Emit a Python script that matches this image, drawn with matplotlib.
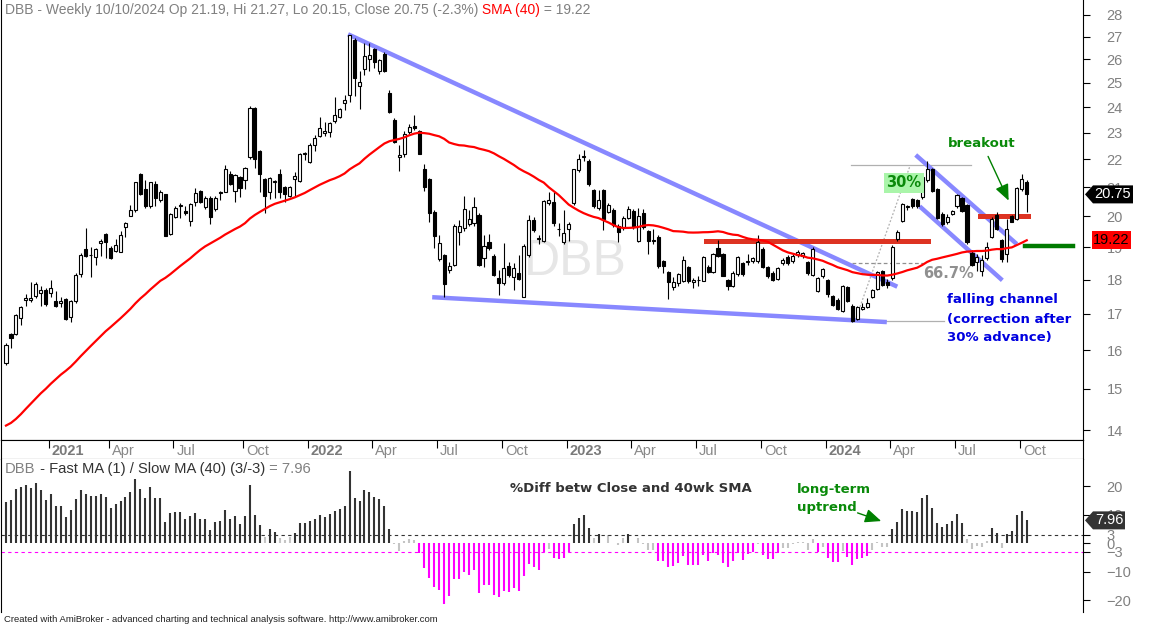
import numpy as np
import pandas as pd
import matplotlib
matplotlib.use("Agg")
import matplotlib.pyplot as plt
from matplotlib.patches import Polygon
from matplotlib.ticker import FixedLocator, NullLocator, FuncFormatter

plt.rcParams['font.family'] = ['Liberation Sans', 'DejaVu Sans']

W, H = 1150, 625

# weekly bars, last one dated Thu 10/10/2024
dates = pd.date_range(end='2024-10-10', periods=206, freq='7D')

opens = [
    15.66, 16.44, 16.44, 16.88, 17.40, 17.41, 17.51, 17.60, 17.69, 17.60,
    17.37, 17.30, 17.42, 16.90, 17.37, 18.16, 18.93, 18.74, 18.69, 19.12,
    19.42, 18.99, 18.89, 18.86, 19.65, 20.03, 20.20, 21.48, 20.93, 20.34,
    21.11, 20.54, 20.75, 19.43, 19.99, 20.36, 20.19, 19.86, 20.50, 20.87,
    20.33, 20.64, 20.24, 20.85, 20.85, 21.47, 20.87, 21.35, 21.24, 22.07,
    23.95, 22.31, 21.28, 20.85, 21.20, 21.47, 21.02, 20.69, 21.28, 21.22,
    22.21, 21.90, 22.52, 22.87, 22.98, 23.03, 23.44, 23.62, 24.16, 24.49,
    26.84, 24.88, 25.58, 25.99, 26.44, 25.49, 26.22, 24.56, 23.49, 22.07,
    22.21, 23.04, 23.26, 23.07, 21.65, 21.29, 20.14, 18.62, 18.77, 18.29,
    18.46, 19.50, 19.63, 19.74, 19.77, 20.05, 18.65, 19.15, 18.72, 18.04,
    17.89, 18.41, 18.09, 18.19, 17.50, 18.75, 19.88, 19.26, 19.20, 20.45,
    20.48, 19.57, 19.16, 19.58, 20.45, 21.61, 22.10, 21.94, 20.90, 20.28,
    20.90, 20.14, 20.22, 19.69, 19.62, 19.94, 20.19, 19.21, 20.10, 19.51,
    19.20, 19.32, 18.57, 18.22, 17.79, 17.91, 17.97, 18.37, 17.94, 17.98,
    17.97, 18.39, 18.24, 18.98, 18.78, 17.99, 17.82, 18.17, 18.50, 18.54,
    18.58, 18.56, 18.94, 18.37, 18.19, 18.01, 18.50, 18.70, 18.57, 18.75,
    18.72, 18.53, 18.14, 17.67, 18.12, 17.99, 17.52, 17.41, 17.08, 17.77,
    17.23, 16.86, 17.14, 17.21, 17.48, 17.72, 18.26, 17.93, 18.06, 19.26,
    19.85, 20.32, 20.58, 20.56, 20.65, 21.25, 21.66, 20.92, 20.09, 19.80,
    20.09, 20.34, 20.62, 20.39, 18.81, 18.55, 18.25, 18.65, 19.33, 20.05,
    19.23, 18.80, 20.02, 19.91, 20.93, 21.19]
highs = [
    16.20, 16.47, 17.00, 17.24, 17.57, 17.93, 17.92, 17.80, 17.74, 17.98,
    17.66, 17.48, 17.45, 17.40, 18.20, 18.83, 19.61, 19.00, 18.99, 19.25,
    19.46, 19.04, 19.26, 19.52, 19.83, 20.39, 21.20, 21.50, 21.27, 21.20,
    21.22, 20.90, 20.77, 20.10, 20.34, 20.47, 20.34, 20.45, 20.96, 20.90,
    20.71, 20.68, 20.68, 20.88, 21.80, 21.58, 21.47, 21.40, 21.72, 24.03,
    24.00, 22.35, 21.32, 21.37, 21.25, 21.64, 21.05, 21.04, 21.55, 22.22,
    22.26, 22.60, 22.90, 23.60, 23.43, 23.43, 24.42, 23.95, 24.49, 27.07,
    26.95, 25.50, 26.70, 26.70, 26.50, 26.00, 26.30, 24.70, 23.55, 22.53,
    23.05, 23.35, 23.69, 23.10, 21.84, 21.33, 20.20, 19.39, 18.80, 18.55,
    19.75, 19.88, 20.68, 20.22, 20.67, 20.10, 19.39, 19.41, 18.78, 18.29,
    19.12, 18.55, 18.50, 18.75, 19.10, 20.05, 19.99, 19.40, 20.55, 20.84,
    20.84, 19.78, 20.22, 19.80, 21.66, 22.20, 22.34, 22.00, 20.95, 20.90,
    20.95, 20.45, 20.30, 19.75, 20.00, 20.35, 20.25, 20.30, 20.25, 19.55,
    19.60, 19.40, 18.60, 18.26, 18.09, 18.20, 18.72, 18.40, 18.05, 18.10,
    18.72, 18.45, 18.82, 19.22, 18.82, 18.03, 18.25, 18.72, 18.55, 18.80,
    18.70, 19.40, 19.00, 18.42, 18.25, 18.38, 18.65, 18.75, 18.78, 18.90,
    18.85, 18.58, 19.00, 18.08, 18.36, 18.02, 17.55, 17.45, 17.85, 17.80,
    17.27, 17.23, 17.32, 17.45, 17.72, 18.26, 18.30, 18.03, 19.06, 19.55,
    20.45, 20.40, 20.62, 20.60, 21.40, 21.95, 21.70, 20.96, 20.15, 20.08,
    20.23, 20.76, 20.65, 20.43, 18.90, 18.80, 18.75, 19.15, 19.97, 20.15,
    19.27, 19.90, 20.05, 21.00, 21.47, 21.27]
lows = [
    15.62, 16.07, 16.40, 16.68, 17.22, 17.35, 17.46, 17.23, 17.23, 17.50,
    17.21, 17.21, 16.82, 16.78, 17.30, 18.09, 18.69, 18.08, 18.44, 18.73,
    18.65, 18.64, 18.86, 18.86, 19.32, 20.03, 20.15, 20.73, 20.28, 20.30,
    20.34, 20.50, 19.36, 19.40, 19.94, 19.94, 20.05, 19.69, 20.35, 20.45,
    20.25, 19.75, 20.18, 20.54, 20.85, 21.08, 20.48, 20.65, 20.93, 22.00,
    21.70, 20.85, 20.10, 20.59, 20.62, 20.62, 20.50, 20.65, 20.69, 21.18,
    21.98, 21.85, 22.32, 22.82, 22.88, 22.84, 23.37, 23.58, 23.87, 24.22,
    24.45, 23.92, 25.32, 25.50, 25.60, 25.38, 25.45, 23.75, 22.60, 21.58,
    22.10, 22.95, 23.10, 22.20, 20.87, 19.81, 18.98, 18.57, 17.50, 18.20,
    18.40, 19.07, 19.52, 19.70, 19.70, 18.40, 18.38, 18.92, 18.10, 17.53,
    17.84, 18.09, 17.69, 17.99, 17.48, 18.70, 19.50, 19.10, 19.15, 20.40,
    19.70, 19.35, 19.10, 19.19, 20.40, 21.55, 21.94, 21.05, 20.30, 20.20,
    19.55, 20.10, 19.65, 19.18, 19.55, 19.90, 19.60, 19.15, 19.60, 18.80,
    19.10, 18.35, 18.20, 17.44, 17.70, 17.80, 17.93, 17.90, 17.75, 17.80,
    17.95, 18.20, 18.20, 18.70, 18.10, 17.68, 17.78, 18.12, 18.12, 18.45,
    18.50, 18.50, 18.35, 18.05, 17.95, 17.98, 18.45, 18.45, 18.50, 18.70,
    18.65, 18.15, 18.10, 17.62, 18.05, 17.50, 17.22, 17.10, 17.05, 17.33,
    16.78, 16.82, 17.10, 17.18, 17.45, 17.68, 17.80, 17.75, 18.00, 19.20,
    19.80, 20.20, 20.30, 20.30, 20.60, 21.20, 20.82, 19.90, 19.70, 19.75,
    20.05, 20.30, 20.15, 19.10, 18.40, 18.25, 18.10, 18.60, 19.30, 19.55,
    18.55, 18.55, 19.80, 19.88, 20.88, 20.15]
closes = [
    16.15, 16.32, 16.97, 17.19, 17.45, 17.47, 17.86, 17.69, 17.28, 17.74,
    17.24, 17.37, 16.85, 17.37, 18.14, 18.77, 18.71, 18.77, 18.93, 19.19,
    19.16, 18.66, 19.06, 19.39, 19.78, 20.22, 21.17, 20.76, 20.36, 21.17,
    20.64, 20.82, 19.37, 20.07, 20.28, 20.40, 20.11, 20.41, 20.79, 20.48,
    20.64, 19.99, 20.64, 20.79, 21.63, 21.11, 21.43, 20.97, 21.68, 23.98,
    22.02, 21.46, 20.70, 21.34, 21.22, 20.85, 20.76, 21.00, 21.40, 22.19,
    22.24, 22.55, 22.78, 23.17, 23.07, 23.39, 23.69, 23.91, 24.29, 27.07,
    25.18, 25.04, 26.13, 26.18, 25.89, 25.96, 25.49, 23.82, 22.65, 22.16,
    22.95, 23.20, 23.17, 22.21, 20.99, 20.13, 19.35, 19.12, 17.87, 18.42,
    19.70, 19.70, 20.24, 19.92, 20.33, 18.46, 19.05, 18.98, 18.14, 17.89,
    18.34, 18.14, 18.34, 18.02, 19.05, 19.88, 19.55, 19.28, 20.52, 20.56,
    19.78, 19.60, 19.47, 19.74, 21.63, 22.00, 22.12, 21.10, 20.36, 20.56,
    19.90, 20.39, 19.72, 19.48, 19.94, 20.24, 19.65, 20.02, 19.65, 19.21,
    19.22, 18.41, 18.41, 17.94, 17.94, 18.16, 18.60, 17.97, 17.99, 18.00,
    18.68, 18.24, 18.78, 18.72, 18.12, 17.82, 18.19, 18.68, 18.17, 18.56,
    18.65, 19.18, 18.39, 18.12, 17.99, 18.34, 18.60, 18.52, 18.72, 18.84,
    18.81, 18.21, 18.94, 18.04, 18.32, 17.57, 17.25, 17.15, 17.81, 17.38,
    16.80, 17.20, 17.20, 17.32, 17.69, 18.22, 17.85, 17.85, 19.02, 19.50,
    20.41, 20.34, 20.35, 20.36, 21.36, 21.66, 20.88, 19.95, 19.75, 19.98,
    20.19, 20.73, 20.18, 19.15, 18.45, 18.68, 18.60, 19.00, 19.93, 19.60,
    18.62, 19.60, 19.83, 20.96, 21.28, 20.75]

# weekly closes before the visible window (Feb-Oct 2020), they only feed the 40wk SMA
pre_closes = [
    13.8, 13.2, 12.6, 12.3, 12.5, 12.7, 12.6, 12.8,
    12.7, 12.6, 12.8, 12.9, 13.0, 12.9, 13.1, 13.3, 13.4, 13.6, 13.8,
    13.8, 14.0, 14.2, 14.4, 14.5, 14.7, 14.9, 15.1,
    15.4, 15.6, 15.5, 15.7, 15.8, 15.6, 15.3, 15.4, 15.5, 15.6, 15.4, 15.3]

last_sma = 19.22
last_diff = 7.96

# study lines drawn on the chart: (bar, price) end points
trend_top = [(68.7, 27.10), (179.0, 17.79)]
trend_bottom = [(85.6, 17.48), (176.9, 16.77)]
chan_top = [(182.7, 22.16), (203.0, 19.10)]
chan_bottom = [(183.5, 20.34), (200.1, 17.98)]
resist_line = (140.6, 185.1, 19.21)
breakout_line = (195.6, 205.2, 20.03)
support_line = (204.6, 214.3, 19.05)
swing_low = (170.9, 188.4, 16.80)
swing_high = (169.7, 193.8, 21.80)
retrace_667 = (169.9, 184.1, 18.50)

o = np.array(opens)
h = np.array(highs)
l = np.array(lows)
c = np.array(closes)
n = len(c)
x = np.arange(n)
allc = pd.Series(pre_closes + closes)
sma = allc.rolling(40).mean().values[len(pre_closes):]
diff = (c / sma - 1) * 100

fig = plt.figure(figsize=(W / 100, H / 100), dpi=100)


def fx(px):
    return px / W


def fy(py):
    return 1 - py / H


xl = (-1.0, 216.3)
ax = fig.add_axes([fx(1), fy(440), fx(1083) - fx(1), fy(0) - fy(440)])
ax_d = fig.add_axes([fx(1), fy(459), fx(1083) - fx(1), fy(440) - fy(459)])
ax2 = fig.add_axes([fx(1), fy(612), fx(1083) - fx(1), fy(459) - fy(612)])

# ---- price panel
up = c >= o
ax.vlines(x, l, h, color='black', lw=0.8, zorder=3)
ax.bar(x[up], (c - o)[up], bottom=o[up], width=0.62, facecolor='white',
       edgecolor='black', lw=0.8, zorder=4)
ax.bar(x[~up], (o - c)[~up], bottom=c[~up], width=0.62, facecolor='black',
       edgecolor='black', lw=0.8, zorder=4)
ax.plot(x, sma, color='#ff0000', lw=1.6, zorder=5)

blue = '#8888ff'
for seg in (trend_top, trend_bottom, chan_top, chan_bottom):
    ax.plot([seg[0][0], seg[1][0]], [seg[0][1], seg[1][1]], color=blue, lw=3.2,
            solid_capstyle='butt', zorder=2)
ax.plot(resist_line[:2], [resist_line[2]] * 2, color='#dd3322', lw=3.6, zorder=2)
ax.plot(breakout_line[:2], [breakout_line[2]] * 2, color='#dd3322', lw=3.6, zorder=2)
ax.plot(support_line[:2], [support_line[2]] * 2, color='#007a00', lw=3.2, zorder=2)
ax.plot(swing_low[:2], [swing_low[2]] * 2, color='#b0b0b0', lw=0.9, zorder=1)
ax.plot(swing_high[:2], [swing_high[2]] * 2, color='#b0b0b0', lw=0.9, zorder=1)
ax.plot(retrace_667[:2], [retrace_667[2]] * 2, color='#909090', lw=0.9,
        ls=(0, (3, 2)), zorder=1)
ax.plot([170.5, 181.5], [swing_low[2], 21.73], color='#b0b0b0', lw=0.9,
        ls=(0, (1.5, 1.5)), zorder=1)

ax.set_xlim(*xl)
ax.set_yscale('log')
ax.set_ylim(13.776, 28.695)
ax.yaxis.set_major_locator(FixedLocator(list(range(14, 29))))
ax.yaxis.set_minor_locator(NullLocator())
ax.yaxis.set_major_formatter(FuncFormatter(lambda v, p: f'{v:.0f}'))
ax.yaxis.tick_right()
ax.tick_params(axis='y', direction='out', length=5, pad=12, labelsize=10.5,
               labelcolor='#808080')
ax.set_xticks([])
ax.spines['top'].set_visible(False)

ax.text(fx(575), fy(262), 'DBB', transform=fig.transFigure, fontsize=36,
        color='#e6e6e6', ha='center', va='center', zorder=0)

# title with coloured pieces
t = ax.text(fx(5), fy(17), 'DBB - Weekly 10/10/2024 Op 21.19, Hi 21.27, Lo 20.15, '
            'Close 20.75 (-2.3%)', transform=fig.transFigure, fontsize=10,
            color='#808080', va='bottom')
t = ax.annotate(' SMA (40)', xy=(1, 0), xycoords=t, va='bottom', fontsize=10,
                color='#ff0000')
ax.annotate(' = 19.22', xy=(1, 0), xycoords=t, va='bottom', fontsize=10,
            color='#808080')

green = '#0a8a0a'
ax.text(fx(904), fy(183), '30%', transform=fig.transFigure, fontsize=10.5,
        fontweight='bold', family='DejaVu Sans', color='#0a8a0a', ha='center',
        va='center', zorder=6,
        bbox=dict(boxstyle='square,pad=0.15', fc='#aaf5aa', ec='none'))
ax.text(fx(949), fy(273), '66.7%', transform=fig.transFigure, fontsize=10.5,
        fontweight='bold', family='DejaVu Sans', color='#909090', ha='center',
        va='center', zorder=6)
ax.text(fx(982), fy(144), 'breakout', transform=fig.transFigure, fontsize=9.5,
        fontweight='bold', family='DejaVu Sans', color=green, ha='center',
        va='center', zorder=6)
ax.annotate('', xy=(201.6, 20.45), xytext=(197.0, 22.2),
            arrowprops=dict(arrowstyle='-|>,head_length=0.7,head_width=0.3',
                            color='#008000', lw=1, mutation_scale=14), zorder=6)
for k, line in enumerate(['falling channel', '(correction after', '30% advance)']):
    ax.text(fx(947), fy(300 + 19 * k), line, transform=fig.transFigure,
            fontsize=9.5, fontweight='bold', family='DejaVu Sans',
            color='#0000e0', ha='left', va='center', zorder=6)

# ---- date strip
ticks, labels = [], []
for i in range(1, n):
    if dates[i].month != dates[i - 1].month and dates[i].month in (1, 4, 7, 10):
        ticks.append(i - 0.4)
        labels.append(str(dates[i].year) if dates[i].month == 1 else dates[i].strftime('%b'))
ax_d.set_xlim(*xl)
ax_d.set_ylim(0, 1)
ax_d.set_yticks([])
ax_d.set_xticks(ticks)
ax_d.tick_params(axis='x', direction='in', length=6, top=True, bottom=False,
                 labelbottom=False)
for tk, lab in zip(ticks, labels):
    yr = lab.isdigit()
    ax_d.text(tk + 0.6, 0.42, lab, transform=ax_d.get_xaxis_transform(),
              fontsize=10.5, fontweight='bold' if yr else 'normal',
              color='#7a7a7a' if yr else '#888888', ha='left', va='center')

# ---- %diff panel
cols = np.where(diff > 3, '#333333', np.where(diff < -3, '#ff00ff', '#c4c4c4'))
ax2.vlines(x, 0, diff, colors=cols, lw=1.5)
ax2.axhline(3, color='#333333', ls=(0, (3, 3)), lw=0.8)
ax2.axhline(-3, color='#ff00ff', ls=(0, (3, 3)), lw=0.8)
ax2.set_xlim(*xl)
ax2.set_ylim(-24.2, 29.5)
ax2.set_xticks([])
ax2.yaxis.tick_right()
ax2.set_yticks([20, 10, 3, 0, -3, -10, -20])
ax2.tick_params(axis='y', direction='out', length=5, pad=12, labelsize=10.5,
                labelcolor='#808080')
ax2.spines['top'].set_visible(False)
ax2.spines['bottom'].set_visible(False)

t = ax2.text(fx(5), fy(476), 'DBB', transform=fig.transFigure, fontsize=10.6,
             color='#808080', va='bottom')
t = ax2.annotate(' - Fast MA (1) / Slow MA (40) (3/-3)', xy=(1, 0), xycoords=t,
                 va='bottom', fontsize=10.6, color='#333333')
ax2.annotate(' = 7.96', xy=(1, 0), xycoords=t, va='bottom', fontsize=10.6,
             color='#808080')
ax2.text(fx(631), fy(488), '%Diff betw Close and 40wk SMA', transform=fig.transFigure,
         fontsize=9.5, fontweight='bold', family='DejaVu Sans', color='#333333',
         ha='center', va='center')
ax2.text(fx(797), fy(489), 'long-term', transform=fig.transFigure, fontsize=9.5,
         fontweight='bold', family='DejaVu Sans', color=green, ha='left', va='center')
ax2.text(fx(797), fy(508), 'uptrend', transform=fig.transFigure, fontsize=9.5,
         fontweight='bold', family='DejaVu Sans', color=green, ha='left', va='center')
ax2.annotate('', xy=(176.3, 7.4), xytext=(170.5, 10.9),
             arrowprops=dict(arrowstyle='-|>,head_length=0.7,head_width=0.3',
                             color='#008000', lw=1, mutation_scale=14))


# ---- value tags on the right axis
def tag(axis, value, label, fc, tc, pointed, x1=1133):
    yc = axis.transData.transform((0, value))[1] / H
    hh = 9 / H
    if pointed:
        pts = [(fx(1085), yc), (fx(1093), yc + hh), (fx(x1), yc + hh),
               (fx(x1), yc - hh), (fx(1093), yc - hh)]
        xm = (1093 + x1) / 2
    else:
        pts = [(fx(1092), yc + hh), (fx(x1), yc + hh), (fx(x1), yc - hh),
               (fx(1092), yc - hh)]
        xm = (1092 + x1) / 2
    fig.add_artist(Polygon(pts, closed=True, transform=fig.transFigure, fc=fc,
                           ec='none', zorder=10))
    fig.text(fx(xm), yc, label, color=tc, fontsize=10.5, ha='center',
             va='center', zorder=11)


tag(ax, c[-1], f'{c[-1]:.2f}', 'black', 'white', True)
tag(ax, last_sma, f'{last_sma:.2f}', '#ff0000', 'black', False, x1=1131)
tag(ax2, last_diff, f'{last_diff:.2f}', '#333333', 'white', True, x1=1125)

fig.text(fx(4), fy(620), 'Created with AmiBroker - advanced charting and technical '
         'analysis software. http://www.amibroker.com', fontsize=6.8,
         color='#222222', va='center')

fig.savefig('out.png', dpi=100)
